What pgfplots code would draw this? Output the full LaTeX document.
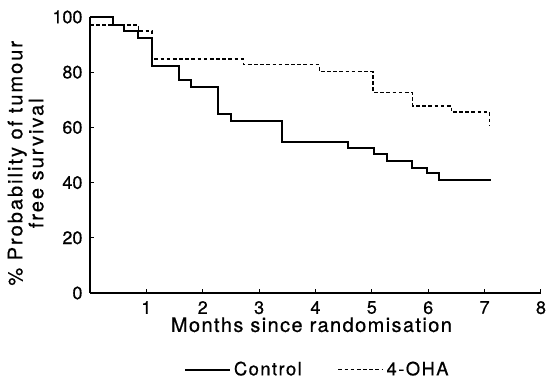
\documentclass[border=0pt]{standalone}
\usepackage{fontspec}
\setmainfont[FakeBold=0.6]{TeX Gyre Heros}
\newfontfamily\spaced[LetterSpace=7,FakeBold=0.6]{TeX Gyre Heros}
\newfontfamily\spacedy[LetterSpace=10,FakeBold=0.6]{TeX Gyre Heros}
\newfontfamily\spacedl[LetterSpace=8,FakeBold=0.6]{TeX Gyre Heros}
\usepackage{pgfplots}
\pgfplotsset{compat=1.18}
\begin{document}
\begin{tikzpicture}
\begin{axis}[
  scale only axis,
  width=270.6pt, height=165.6pt,
  at={(0,0)}, anchor=south west,
  xmin=0, xmax=8, ymin=0, ymax=100,
  axis x line=bottom, axis y line=left,
  axis line style={-, line width=1.1pt},
  xtick={1,...,8}, ytick={0,20,...,100},
  tick align=inside,
  major tick length=2.6pt,
  tick style={line width=0.6pt, black},
  /pgf/number format/assume math mode=true,
  ticklabel style={font=\fontsize{10.8}{12}\selectfont},
  xticklabel style={inner sep=0.5pt, yshift=-4.2pt},
  yticklabel style={xshift=-1pt},
  xlabel={Months since randomisation},
  xlabel style={font=\spaced\fontsize{12}{13}\selectfont, anchor=base, inner sep=0pt, at={(axis description cs:0.491,-0.141)}},
  ylabel={\% Probability of tumour\\free survival},
  ylabel style={font=\spacedy\fontsize{12}{12.6}\selectfont, align=center, anchor=south, inner sep=0pt, at={(axis description cs:-0.102,0.47)}},
  legend columns=2,
  legend style={draw=none, fill=none, at={(0.505,-0.278)}, anchor=center,
    font=\spacedl\fontsize{11}{12}\selectfont,
    /tikz/every even column/.append style={column sep=20pt},
    nodes={inner sep=1.5pt}},
  legend image code/.code={\draw[#1] (0pt,0pt) -- (27pt,0pt);},
  clip=false,
]
\addplot[const plot, black, line width=1.2pt] coordinates {
(0,100) (0.40,97.2) (0.61,95.0) (0.85,92.3) (1.10,82.2) (1.57,77.2) (1.79,74.7)
(2.27,64.7) (2.50,62.3) (3.40,54.8) (4.57,52.4) (5.03,50.2) (5.27,47.8)
(5.72,45.4) (5.97,43.4) (6.19,40.9) (7.11,40.9)
};
\addlegendentry{Control}
\addplot[const plot, black, line width=0.9pt, dash pattern=on 2.2pt off 1.5pt] coordinates {
(0,97.1) (0.86,94.9) (1.10,84.7) (2.72,82.8) (4.07,80.2) (5.02,72.7)
(5.72,67.8) (6.41,65.5) (7.09,60.5)
};
\addlegendentry[legend image code/.code={\draw[black, line width=0.7pt, dash pattern=on 1.2pt off 1pt] (0pt,0pt) -- (33pt,0pt);}]{4-OHA}
\end{axis}
\pgfresetboundingbox
\useasboundingbox (-54pt,-51.6pt) rectangle (273.6pt,175.8pt);
\end{tikzpicture}
\end{document}
